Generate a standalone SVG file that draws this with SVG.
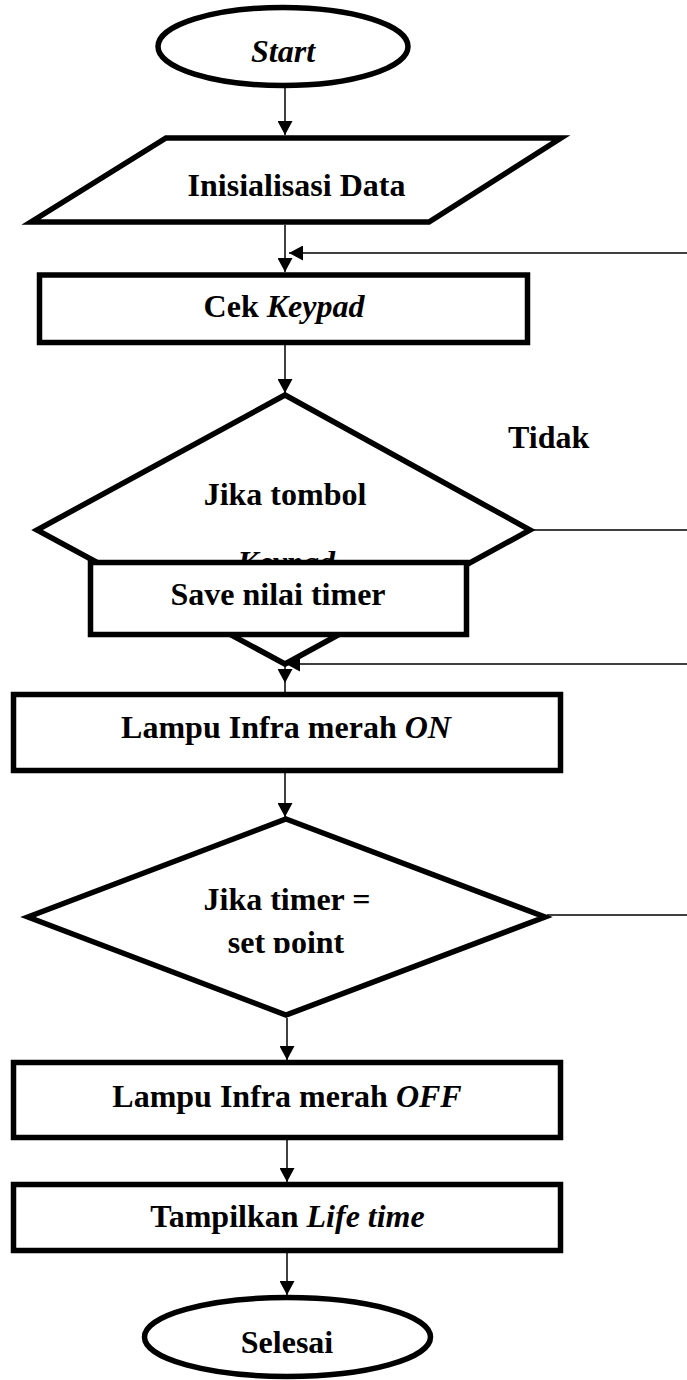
<svg xmlns="http://www.w3.org/2000/svg" width="687" height="1380" viewBox="0 0 687 1380">
<style>
.shape{fill:#fff;stroke:#000;stroke-width:5.5;stroke-linejoin:miter}
.t{font-family:"Liberation Serif","Times New Roman",serif;font-weight:bold;font-size:32px;fill:#000}
.i{font-style:italic}
.c{text-anchor:middle}
.conn{stroke:#000;stroke-width:1.5;fill:none}
</style>
<defs>
<marker id="ah" viewBox="0 0 14 15" refX="14" refY="7.5" markerWidth="14" markerHeight="15" markerUnits="userSpaceOnUse" orient="auto">
<path d="M0,0 L14,7.5 L0,15 z" fill="#000"/>
</marker>
<clipPath id="clipSet"><rect x="0" y="800" width="687" height="153"/></clipPath>
</defs>
<rect width="687" height="1380" fill="#fff"/>
<g id="start">
<ellipse class="shape" cx="283" cy="46.5" rx="125" ry="39"/>
<text class="t i c" x="283" y="62">Start</text>
</g>
<g id="init">
<polygon class="shape" points="166,138 561,138 429,222 31,222"/>
<text class="t c" x="296.5" y="196">Inisialisasi Data</text>
</g>
<g id="cek">
<rect class="shape" x="39.5" y="275" width="488" height="67.5"/>
<text class="t c" x="284" y="317">Cek <tspan class="i">Keypad</tspan></text>
</g>
<g id="decision1">
<polygon class="shape" points="285,395 530,530 285,664 37,530"/>
<text class="t c" x="285" y="505">Jika tombol</text>
<text class="t i c" x="286" y="573">Keypad</text>
</g>
<g id="save">
<rect class="shape" x="90.5" y="562.5" width="376" height="72"/>
<text class="t c" x="278" y="605">Save nilai timer</text>
</g>
<g id="lampuOn">
<rect class="shape" x="13.5" y="694.5" width="547" height="76"/>
<text class="t c" x="286" y="738">Lampu Infra merah <tspan class="i">ON</tspan></text>
</g>
<g id="decision2">
<polygon class="shape" points="286,819 545,917 286,1015 28,917"/>
<text class="t c" x="287" y="910">Jika timer =</text>
<text class="t c" x="286" y="953" clip-path="url(#clipSet)">set point</text>
</g>
<g id="lampuOff">
<rect class="shape" x="13.5" y="1062.5" width="547" height="75"/>
<text class="t c" x="287" y="1107">Lampu Infra merah <tspan class="i">OFF</tspan></text>
</g>
<g id="tampilkan">
<rect class="shape" x="13.5" y="1184.5" width="547" height="66"/>
<text class="t c" x="287.5" y="1227">Tampilkan <tspan class="i">Life time</tspan></text>
</g>
<g id="selesai">
<ellipse class="shape" cx="287.5" cy="1337" rx="143" ry="39.5"/>
<text class="t c" x="287" y="1353">Selesai</text>
</g>
<g id="connectors">
<line class="conn" x1="285" y1="88" x2="285" y2="135" marker-end="url(#ah)"/>
<line class="conn" x1="285" y1="225" x2="285" y2="272" marker-end="url(#ah)"/>
<line class="conn" x1="687" y1="253" x2="289" y2="253" marker-end="url(#ah)"/>
<line class="conn" x1="285" y1="345" x2="285" y2="393" marker-end="url(#ah)"/>
<line class="conn" x1="532" y1="530" x2="687" y2="530"/>
<line class="conn" x1="687" y1="664" x2="286" y2="664" marker-end="url(#ah)"/>
<line class="conn" x1="285" y1="667" x2="285" y2="683" marker-end="url(#ah)"/>
<line class="conn" x1="285" y1="683" x2="285" y2="692"/>
<line class="conn" x1="285" y1="773" x2="285" y2="817" marker-end="url(#ah)"/>
<line class="conn" x1="547" y1="915" x2="687" y2="915"/>
<line class="conn" x1="287" y1="1018" x2="287" y2="1060" marker-end="url(#ah)"/>
<line class="conn" x1="287" y1="1140" x2="287" y2="1182" marker-end="url(#ah)"/>
<line class="conn" x1="287" y1="1253" x2="287" y2="1295" marker-end="url(#ah)"/>
</g>
<g id="label-tidak">
<text class="t" x="508" y="448">Tidak</text>
</g>
</svg>
